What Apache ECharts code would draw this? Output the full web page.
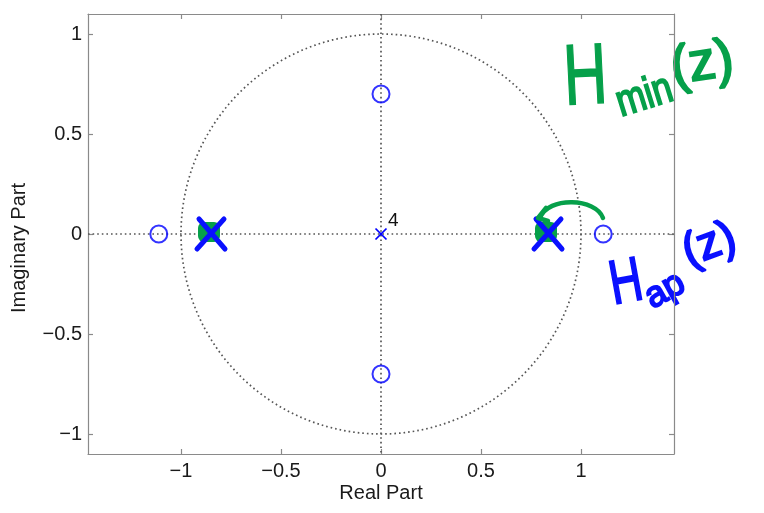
<!DOCTYPE html>
<html><head><meta charset="utf-8">
<script src="https://cdn.jsdelivr.net/npm/echarts@6/dist/echarts.min.js"></script>
<style>html,body{margin:0;padding:0;background:#fff}#c{width:764px;height:513px}</style>
</head><body><div id="c"></div>
<script>
// Zeros and poles of the system (real / imaginary parts)
const zeroRe = [0, 0, -1.111, 1.111];
const zeroIm = [0.7, -0.7, 0, 0];
const poleRe = [0];
const poleIm = [0];
const poleOrder = ['4'];
// poles marked by hand on top of the plot
const markedRe = [-0.85, 0.835];
const markedIm = [0, 0];
// axis ticks and extents
const xTicks = [-1, -0.5, 0, 0.5, 1];
const yTicks = [-1, -0.5, 0, 0.5, 1];
const xRange = [-1.465, 1.465];
const yRange = [-1.1, 1.1];

const FONT = '"Liberation Sans", Arial, Helvetica, sans-serif';
const BOX = '#8a8a8a';
const DOT = '#555555';
const BLUE = '#0000ff';
const PEN_BLUE = '#0a10ff';
const PEN_GREEN = '#06a04a';

const fmt = v => String(v).replace('-', '\u2212');

function axisPair(dim, ticks, range) {
  const base = {
    type: 'value', min: range[0], max: range[1],
    axisLine: { show: true, onZero: false, lineStyle: { color: BOX, width: 1.2 } },
    axisTick: { show: true, inside: true, length: 5, customValues: ticks, lineStyle: { color: BOX, width: 1.2 } },
    splitLine: { show: false }
  };
  const main = Object.assign({}, base, {
    position: dim === 'x' ? 'bottom' : 'left',
    axisLabel: { customValues: ticks, formatter: fmt, fontSize: 20, color: '#1a1a1a', fontFamily: FONT, margin: dim === 'x' ? 7 : 6 }
  });
  const mirror = Object.assign({}, base, {
    position: dim === 'x' ? 'top' : 'right',
    axisLabel: { show: false }
  });
  return [main, mirror];
}

const chart = echarts.init(document.getElementById('c'), null, { renderer: 'canvas' });

const zeros = zeroRe.map((r, i) => [r, zeroIm[i]]);
const poles = poleRe.map((r, i) => [r, poleIm[i], poleOrder[i]]);
const marked = markedRe.map((r, i) => [r, markedIm[i]]);

chart.setOption({
  animation: false,
  backgroundColor: '#fff',
  grid: { left: 88, right: 90, top: 14, bottom: 59 },
  xAxis: axisPair('x', xTicks, xRange),
  yAxis: axisPair('y', yTicks, yRange),
  series: [
    {
      // unit circle and the two dotted axes through the origin
      type: 'custom', xAxisIndex: 0, yAxisIndex: 0, clip: true, silent: true,
      data: [[0, 0]],
      renderItem: (params, api) => {
        const c = api.coord([0, 0]);
        const r = api.size([1, 1])[0];
        const l = api.coord([xRange[0], 0]), rr = api.coord([xRange[1], 0]);
        const t = api.coord([0, yRange[1]]), b = api.coord([0, yRange[0]]);
        const dotted = { stroke: DOT, lineWidth: 1.7, lineDash: [1.6, 3], fill: null };
        return {
          type: 'group', children: [
            { type: 'circle', shape: { cx: c[0], cy: c[1], r: r }, style: dotted },
            { type: 'line', shape: { x1: l[0], y1: l[1], x2: rr[0], y2: rr[1] }, style: dotted },
            { type: 'line', shape: { x1: t[0], y1: t[1], x2: b[0], y2: b[1] }, style: dotted }
          ]
        };
      }
    },
    {
      // zeros
      type: 'scatter', data: zeros, symbol: 'circle', symbolSize: 17,
      itemStyle: { color: 'rgba(0,0,0,0)', borderColor: BLUE, borderWidth: 2 },
      silent: true, z: 3
    },
    {
      // poles with their multiplicity
      type: 'custom', data: poles, silent: true, z: 3,
      renderItem: (params, api) => {
        const p = api.coord([api.value(0), api.value(1)]);
        const h = 5.5;
        const st = { stroke: BLUE, lineWidth: 1.7 };
        return {
          type: 'group', children: [
            { type: 'line', shape: { x1: p[0] - h, y1: p[1] - h, x2: p[0] + h, y2: p[1] + h }, style: st },
            { type: 'line', shape: { x1: p[0] - h, y1: p[1] + h, x2: p[0] + h, y2: p[1] - h }, style: st },
            { type: 'text', x: p[0] + 7, y: p[1] - 4,
              style: { text: poleOrder[params.dataIndex], fontSize: 19, fontFamily: FONT, fill: '#111', align: 'left', verticalAlign: 'bottom' } }
          ]
        };
      }
    },
    {
      // hand-marked poles: green scribble under a heavy blue cross
      type: 'custom', data: marked, silent: true, z: 4,
      renderItem: (params, api) => {
        const p = api.coord([api.value(0), api.value(1)]);
        const h = 15;
        const pen = { stroke: PEN_BLUE, lineWidth: 5, lineCap: 'round' };
        return {
          type: 'group', children: [
            { type: 'rect', shape: { x: p[0] - 13, y: p[1] - 12, width: 22, height: 20, r: 6 }, style: { fill: PEN_GREEN } },
            { type: 'line', shape: { x1: p[0] - h + 3, y1: p[1] - h, x2: p[0] + h - 1, y2: p[1] + h }, style: pen },
            { type: 'line', shape: { x1: p[0] - h + 1, y1: p[1] + h, x2: p[0] + h - 2, y2: p[1] - h }, style: pen }
          ]
        };
      }
    }
  ],
  graphic: [
    { type: 'text', x: 381, y: 483, style: { text: 'Real Part', fontSize: 20, fontFamily: FONT, fill: '#1a1a1a', align: 'center', verticalAlign: 'top' } },
    { type: 'text', x: 19, y: 248, rotation: Math.PI / 2, style: { text: 'Imaginary Part', fontSize: 20, fontFamily: FONT, fill: '#1a1a1a', align: 'center', verticalAlign: 'middle' } },
    // green arrow from the outer zero back inside
    { type: 'bezierCurve', z: 5, shape: { x1: 603, y1: 218, cpx1: 596, cpy1: 198, cpx2: 548, cpy2: 196, x2: 540, y2: 218 },
      style: { stroke: PEN_GREEN, lineWidth: 4.5, lineCap: 'round', fill: null } },
    { type: 'polyline', z: 5, shape: { points: [[546, 208], [538, 218], [548, 221]] },
      style: { stroke: PEN_GREEN, lineWidth: 4.5, lineCap: 'round', lineJoin: 'round', fill: null } },
    // handwritten labels
    { type: 'text', x: 566, y: 124, scaleX: 0.7, rotation: 0.05,
      style: { text: 'H', fontSize: 86, fontFamily: FONT, fill: PEN_GREEN, stroke: PEN_GREEN, lineWidth: 1.5, verticalAlign: 'bottom' } },
    { type: 'text', x: 624, y: 126, scaleX: 0.8, rotation: 0.3,
      style: { text: 'min', fontSize: 44, fontFamily: FONT, fill: PEN_GREEN, stroke: PEN_GREEN, lineWidth: 2, verticalAlign: 'bottom' } },
    { type: 'text', x: 675, y: 96, rotation: 0.15,
      style: { text: '(z)', fontSize: 54, fontFamily: FONT, fill: PEN_GREEN, stroke: PEN_GREEN, lineWidth: 2, verticalAlign: 'bottom' } },
    { type: 'text', x: 616, y: 318, scaleX: 0.72, rotation: 0.18,
      style: { text: 'H', fontSize: 62, fontFamily: FONT, fill: PEN_BLUE, stroke: PEN_BLUE, lineWidth: 2, verticalAlign: 'bottom' } },
    { type: 'text', x: 656, y: 316, rotation: 0.5,
      style: { text: 'ap', fontSize: 36, fontFamily: FONT, fill: PEN_BLUE, stroke: PEN_BLUE, lineWidth: 2, verticalAlign: 'bottom' } },
    { type: 'text', x: 692, y: 276, rotation: 0.35,
      style: { text: '(z)', fontSize: 46, fontFamily: FONT, fill: PEN_BLUE, stroke: PEN_BLUE, lineWidth: 2, verticalAlign: 'bottom' } }
  ]
});
</script>
</body></html>
